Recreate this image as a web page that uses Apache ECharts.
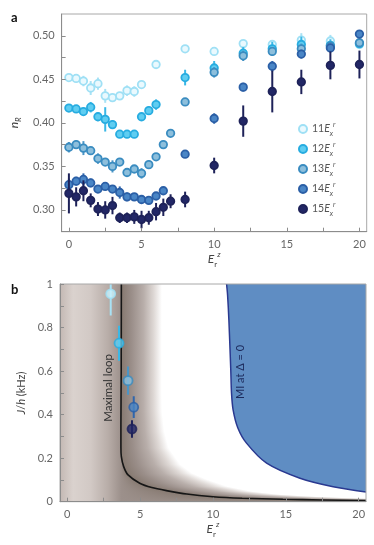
<!DOCTYPE html>
<html><head><meta charset="utf-8">
<script src="https://cdn.jsdelivr.net/npm/echarts@6/dist/echarts.min.js"></script>
<style>html,body{margin:0;padding:0;background:#fff;}#c{width:374px;height:545px;}</style>
</head><body><div id="c"></div>
<script>
// ---------- Panel a data ----------
const seriesNames = ['11', '12', '13', '14', '15'];
const s11X = [0,0.5,1,1.5,2,2.5,3,3.5,4,4.5,5,6,8,10,12,14,16,18,20];
const s11Y = [0.452,0.451,0.448,0.440,0.445,0.431,0.429,0.431,0.437,0.436,0.444,0.467,0.485,0.482,0.491,0.490,0.495,0.494,0.490];
const s11E = [0.004,0.004,0.006,0.008,0.007,0.008,0.003,0.003,0.006,0.006,0.004,0.003,0.004,0.004,0.004,0.005,0.008,0.007,0.004];
const s12X = [0,0.5,1,1.5,2,2.5,3,3.5,4,4.5,5,5.5,6,8,10,12,14,16,18,20];
const s12Y = [0.417,0.416,0.413,0.418,0.407,0.404,0.398,0.387,0.387,0.387,0.407,0.414,0.421,0.452,0.463,0.480,0.485,0.490,0.489,0.491];
const s12E = [0.004,0.004,0.004,0.006,0.005,0.014,0.005,0.003,0.003,0.003,0.004,0.005,0.006,0.009,0.008,0.007,0.008,0.009,0.007,0.005];
const s13X = [0,0.5,1,1.5,2,2.5,3,3.5,4,4.5,5,5.5,6,6.5,7,8,10,12,14,16,18,20];
const s13Y = [0.372,0.375,0.371,0.368,0.359,0.355,0.350,0.355,0.343,0.347,0.342,0.352,0.361,0.375,0.388,0.424,0.458,0.477,0.482,0.485,0.488,0.492];
const s13E = [0.006,0.005,0.008,0.004,0.006,0.004,0.007,0.004,0.003,0.004,0.006,0.005,0.003,0.003,0.003,0.003,0.006,0.006,0.005,0.006,0.005,0.005];
const s14X = [0,0.5,1,1.5,2,2.5,3,3.5,4,4.5,5,5.5,6,6.5,8,10,12,14,16,18,20];
const s14Y = [0.329,0.333,0.335,0.331,0.324,0.327,0.324,0.320,0.315,0.315,0.312,0.311,0.316,0.322,0.364,0.405,0.441,0.465,0.479,0.486,0.502];
const s14E = [0.007,0.005,0.007,0.005,0.004,0.004,0.004,0.007,0.005,0.004,0.004,0.004,0.004,0.004,0.004,0.006,0.005,0.006,0.005,0.005,0.004];
const s15X = [0,0.5,1,1.5,2,2.5,3,3.5,4,4.5,5,5.5,6,6.5,7,8,10,12,14,16,18,20];
const s15Y = [0.319,0.315,0.322,0.311,0.301,0.300,0.305,0.291,0.291,0.292,0.289,0.291,0.298,0.303,0.310,0.312,0.351,0.402,0.436,0.447,0.466,0.467];
const s15E = [0.023,0.011,0.012,0.008,0.008,0.010,0.010,0.006,0.006,0.008,0.010,0.008,0.010,0.010,0.008,0.009,0.009,0.018,0.024,0.014,0.016,0.016];

const xLabelsA = [0, 5, 10, 15, 20];
const xTicksA = [0, 2.5, 5, 7.5, 10, 12.5, 15, 17.5, 20];
const yLabelsA = [0.30, 0.35, 0.40, 0.45, 0.50];
const yTicksA = [0.30, 0.325, 0.35, 0.375, 0.40, 0.425, 0.45, 0.475, 0.50];

// ---------- Panel b data ----------
const bX = [2.98, 3.55, 4.17, 4.56, 4.44];
const bY = [0.955, 0.728, 0.556, 0.434, 0.334];
const bE = [0.10, 0.08, 0.065, 0.05, 0.04];
const loopX = [3.71, 3.70, 3.68, 3.68, 3.71, 3.87, 4.17, 4.97, 5.8, 6.8, 8.2, 10.0, 12.0, 14.8, 17.5, 20.5];
const loopY = [1.0, 0.6, 0.35, 0.25, 0.207, 0.161, 0.123, 0.085, 0.065, 0.051, 0.035, 0.023, 0.016, 0.011, 0.008, 0.005];
const miX = [10.93, 11.0, 11.09, 11.22, 11.27, 11.38, 11.7, 12.3, 13.68, 15.97, 18.25, 20.5];
const miY = [1.0, 0.95, 0.835, 0.605, 0.5, 0.422, 0.34, 0.269, 0.177, 0.108, 0.069, 0.045];
const xLabelsB = [0, 5, 10, 15, 20];
const xTicksB = [0, 2.5, 5, 7.5, 10, 12.5, 15, 17.5, 20];
const yLabelsB = [0, 0.2, 0.4, 0.6, 0.8, 1];
const yTicksB = [0, 0.1, 0.2, 0.3, 0.4, 0.5, 0.6, 0.7, 0.8, 0.9, 1];

// ---------- styles ----------
const FONT = 'Lato, "Open Sans", sans-serif';
const fills = ['#eaf9fe', '#5fcdf1', '#8dbfdc', '#4a86c6', '#222766'];
const strokes = ['#9fe0f5', '#27ace0', '#3a8cc0', '#2b5fa6', '#1e2259'];
const barCols = ['#a8e2f5', '#3bb8e6', '#4a95c6', '#2f66ad', '#1e2259'];

const allX = [s11X, s12X, s13X, s14X, s15X];
const allY = [s11Y, s12Y, s13Y, s14Y, s15Y];
const allE = [s11E, s12E, s13E, s14E, s15E];

function errRender(colorFn) {
  return function (params, api) {
    const p1 = api.coord([api.value(0), api.value(1)]);
    const p2 = api.coord([api.value(0), api.value(2)]);
    return { type: 'line', shape: { x1: p1[0], y1: p1[1], x2: p2[0], y2: p2[1] },
      style: { stroke: colorFn(params.dataIndex), lineWidth: 2 } };
  };
}

const series = [];
seriesNames.forEach((n, i) => {
  series.push({
    type: 'custom', xAxisIndex: 0, yAxisIndex: 0, z: 2 + i * 2, silent: true,
    data: allX[i].map((x, k) => [x, allY[i][k] - allE[i][k], allY[i][k] + allE[i][k]]),
    encode: { x: 0, y: [1, 2] },
    renderItem: errRender(() => barCols[i])
  });
  series.push({
    name: n, type: 'scatter', xAxisIndex: 0, yAxisIndex: 0, z: 3 + i * 2,
    symbol: 'circle', symbolSize: 7.5,
    data: allX[i].map((x, k) => [x, allY[i][k]]),
    itemStyle: { color: fills[i], borderColor: strokes[i], borderWidth: 1.8, opacity: 1 }
  });
});

// shading around the maximal loop curve
function xcAt(y) {
  if (y >= loopY[0]) return loopX[0];
  for (let i = 0; i < loopY.length - 1; i++) {
    if (y <= loopY[i] && y >= loopY[i + 1]) {
      const t = (loopY[i] - y) / (loopY[i] - loopY[i + 1]);
      return loopX[i] + t * (loopX[i + 1] - loopX[i]);
    }
  }
  return 30;
}
function shadeRender(params, api) {
  const children = [];
  const pTop = api.coord([0, 1])[1];
  const pBot = api.coord([0, 0])[1];
  const yOf = py => (pBot - py) / (pBot - pTop);
  const rows = [];
  for (let py = Math.floor(pTop); py < Math.ceil(pBot); py++) rows.push([py, py + 1, yOf(py + 0.5)]);
  rows.forEach(([r0, r1, ym]) => {
    const xc = xcAt(ym);
    const xe = xcAt(ym / 2) + 2.8;
    const xl = Math.min(xc, 3.7);
    const px = v => api.coord([v, 0])[0];
    const L = px(-0.5), R = px(Math.min(xe, 40));
    const off = v => Math.max(0, Math.min(1, (px(v) - L) / (R - L)));
    const w = xe - xc;
    const stops = [
      { offset: 0, color: '#c3b8b3' },
      { offset: off(0.4), color: '#dad2ce' },
      { offset: off(1.6), color: '#d2c9c5' },
      { offset: off(Math.min(2.8, xl)), color: '#b8ada8' },
      { offset: off(xl), color: '#9c908b' },
      { offset: off(xc), color: '#867970' },
      { offset: off(xc + 0.25 * w), color: '#9a8e89' },
      { offset: off(xc + 0.55 * w), color: '#b8aeaa' },
      { offset: off(xc + 0.8 * w), color: '#ded8d5' },
      { offset: 1, color: '#ffffff' }
    ];
    children.push({
      type: 'rect',
      shape: { x: Math.floor(L), y: r0, width: Math.ceil(R - L) + 1, height: r1 - r0 },
      style: { fill: { type: 'linear', x: L, y: 0, x2: R, y2: 0, global: true, colorStops: stops } }
    });
  });
  return { type: 'group', children };
}

series.push({
  type: 'custom', xAxisIndex: 1, yAxisIndex: 1, z: 1, silent: true, clip: true,
  data: [[0, 0]], renderItem: shadeRender
});
series.push({
  type: 'line', xAxisIndex: 1, yAxisIndex: 1, z: 2, silent: true, smooth: 0.3,
  showSymbol: false, data: miX.map((x, k) => [x, miY[k]]),
  lineStyle: { color: '#2a3990', width: 1.5 },
  areaStyle: { color: '#5f8dc3', origin: 'end', opacity: 1 }
});
series.push({
  type: 'line', xAxisIndex: 1, yAxisIndex: 1, z: 3, silent: true, smooth: 0.25,
  showSymbol: false, data: loopX.map((x, k) => [x, loopY[k]]),
  lineStyle: { color: '#161616', width: 1.6 }
});
series.push({
  type: 'custom', xAxisIndex: 1, yAxisIndex: 1, z: 4, silent: true, clip: true,
  data: bX.map((x, k) => [x, bY[k] - bE[k], bY[k] + bE[k]]),
  encode: { x: 0, y: [1, 2] },
  renderItem: errRender(k => barCols[k])
});
series.push({
  name: 'b', type: 'scatter', xAxisIndex: 1, yAxisIndex: 1, z: 5, symbol: 'circle', symbolSize: 9,
  data: bX.map((x, k) => ({ value: [x, bY[k]], itemStyle: { color: k === 0 ? '#c8f1fc' : fills[k], borderColor: strokes[k], borderWidth: 1.8 } }))
});

const axisCol = '#8c8c8c';
const labelStyle = { color: '#666', fontSize: 11, fontFamily: FONT };
function xAx(grid, labels, ticks, gap) {
  return {
    type: 'value', gridIndex: grid, min: -0.5, max: 20.5, z: 10,
    axisLine: { onZero: false, lineStyle: { color: axisCol, width: 1 } },
    axisTick: { inside: true, length: 4, customValues: ticks, lineStyle: { color: axisCol } },
    axisLabel: Object.assign({ customValues: labels, margin: 7 }, labelStyle),
    splitLine: { show: false },
    name: '{e|E}{s|r}{p|z}', nameLocation: 'middle', nameGap: gap,
    nameTextStyle: { rich: {
      e: { fontSize: 12, fontStyle: 'italic', color: '#444', fontFamily: FONT, lineHeight: 18 },
      s: { fontSize: 8, color: '#444', fontFamily: FONT, verticalAlign: 'bottom', lineHeight: 8 },
      p: { fontSize: 8, fontStyle: 'italic', color: '#444', fontFamily: FONT, verticalAlign: 'top', lineHeight: 8 }
    } }
  };
}

const option = {
  animation: false,
  backgroundColor: '#fff',
  grid: [
    { left: 60, right: 7.3, top: 14, height: 217.7, show: true, borderColor: '#a8a8a8', borderWidth: 1, z: 10 },
    { left: 60, right: 8, top: 284, height: 217.7, show: true, borderColor: '#a8a8a8', borderWidth: 1, z: 10 }
  ],
  xAxis: [xAx(0, xLabelsA, xTicksA, 15), xAx(1, xLabelsB, xTicksB, 15)],
  yAxis: [
    {
      type: 'value', gridIndex: 0, min: 0.275, max: 0.525, z: 10,
      axisLine: { show: true, onZero: false, lineStyle: { color: axisCol } },
      axisTick: { show: true, inside: true, length: 4, customValues: yTicksA, lineStyle: { color: axisCol } },
      axisLabel: Object.assign({ customValues: yLabelsA, margin: 7, formatter: v => v.toFixed(2) }, labelStyle),
      splitLine: { show: false },
      name: '{n|n}{s|R}', nameLocation: 'middle', nameGap: 24, nameRotate: 90,
      nameTextStyle: { rich: {
        n: { fontSize: 12, fontStyle: 'italic', color: '#444', fontFamily: FONT, lineHeight: 16 },
        s: { fontSize: 8, fontStyle: 'italic', color: '#444', fontFamily: FONT, verticalAlign: 'bottom', lineHeight: 8 }
      } }
    },
    {
      type: 'value', gridIndex: 1, min: 0, max: 1, z: 10,
      axisLine: { show: true, onZero: false, lineStyle: { color: axisCol } },
      axisTick: { show: true, inside: true, length: 4, customValues: yTicksB, lineStyle: { color: axisCol } },
      axisLabel: Object.assign({ customValues: yLabelsB, margin: 7, formatter: v => (v === 0 || v === 1) ? String(v) : v.toFixed(1) }, labelStyle),
      splitLine: { show: false },
      name: '{i|J}{n|/}{i|h}{n| (kHz)}', nameLocation: 'middle', nameGap: 28, nameRotate: 90,
      nameTextStyle: { rich: {
        i: { fontSize: 11, fontStyle: 'italic', color: '#444', fontFamily: FONT },
        n: { fontSize: 11, color: '#444', fontFamily: FONT }
      } }
    }
  ],
  legend: {
    data: seriesNames, orient: 'vertical', left: 298, top: 121, padding: 0,
    itemWidth: 8, itemHeight: 8, itemGap: 4, icon: 'circle', selectedMode: false,
    formatter: n => '{n|' + n + '}{e|E}{s|x}{p|r}',
    textStyle: { rich: {
      n: { fontSize: 10.5, color: '#555', fontFamily: FONT, lineHeight: 16 },
      e: { fontSize: 10.5, fontStyle: 'italic', color: '#555', fontFamily: FONT, lineHeight: 16 },
      s: { fontSize: 7, fontStyle: 'italic', color: '#555', fontFamily: FONT, verticalAlign: 'bottom', lineHeight: 7 },
      p: { fontSize: 7, fontStyle: 'italic', color: '#555', fontFamily: FONT, verticalAlign: 'top', lineHeight: 7 }
    } }
  },
  graphic: [
    { type: 'text', left: 11, top: 11, style: { text: 'a', font: 'bold 13px ' + FONT, fill: '#111' } },
    { type: 'text', left: 11, top: 283, style: { text: 'b', font: 'bold 13px ' + FONT, fill: '#111' } },
    { type: 'text', x: 108, y: 388, rotation: Math.PI / 2, z: 20,
      style: { text: 'Maximal loop', font: '11.5px ' + FONT, fill: '#333', align: 'center', verticalAlign: 'middle' } },
    { type: 'text', x: 240, y: 372, rotation: Math.PI / 2, z: 20,
      style: { text: 'MI at Δ = 0', font: '11px ' + FONT, fill: '#1c2a5c', align: 'center', verticalAlign: 'middle' } }
  ],
  series
};

const chart = echarts.init(document.getElementById('c'), null, { renderer: 'canvas' });
chart.setOption(option);
</script>
</body></html>
